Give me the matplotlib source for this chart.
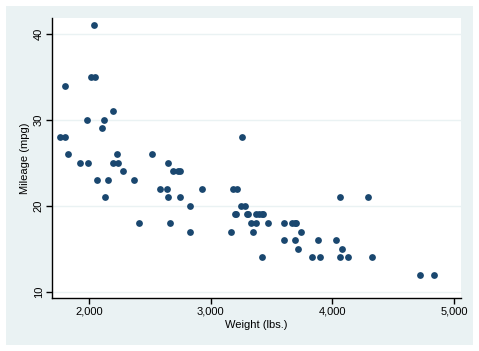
import matplotlib
matplotlib.use("Agg")
import matplotlib.pyplot as plt
from matplotlib.patches import Rectangle
from matplotlib.ticker import FuncFormatter

plt.rcParams["font.family"] = ["Liberation Sans", "DejaVu Sans"]

# auto data: weight (lbs.) and mileage (mpg)
weight = [2930, 3350, 2640, 3250, 4080, 3670, 2230, 3280, 3880, 3400,
          4330, 3900, 4290, 2110, 3690, 3180, 3220, 2750, 3430, 2120,
          3600, 3600, 3740, 1800, 2650, 4840, 4720, 3830, 2580, 4060,
          3720, 3370, 4130, 2830, 4060, 3310, 3300, 3690, 3370, 2730,
          4030, 3260, 1800, 2200, 2520, 3330, 3700, 3470, 3210, 3200,
          3420, 2690, 2830, 2070, 2650, 2370, 2020, 2280, 2750, 2130,
          2240, 1760, 1980, 3420, 1830, 2050, 2410, 2200, 2670, 2160,
          2040, 1930, 1990, 3170]
mpg = [22, 17, 22, 20, 15, 18, 26, 20, 16, 19,
       14, 14, 21, 29, 16, 22, 22, 24, 19, 30,
       18, 16, 17, 28, 21, 12, 12, 14, 22, 14,
       15, 18, 14, 20, 21, 19, 19, 18, 19, 24,
       16, 28, 34, 25, 26, 18, 18, 18, 19, 19,
       19, 24, 17, 23, 25, 23, 35, 24, 21, 21,
       25, 28, 30, 14, 26, 35, 18, 31, 18, 23,
       41, 25, 25, 17]
xticks = [2000, 3000, 4000, 5000]
yticks = [10, 20, 30, 40]

W, H = 479, 351
fig = plt.figure(figsize=(W / 100, H / 100), dpi=100, facecolor="white")
fig.patches.append(Rectangle((6 / W, 6 / H), 467 / W, 339 / H,
                             transform=fig.transFigure, facecolor="#EAF2F3",
                             edgecolor="none", zorder=-5))

ax = fig.add_axes([52 / W, (H - 298) / H, 409 / W, 280 / H])
ax.set_zorder(1)
ax.set_facecolor("white")
ax.scatter(weight, mpg, s=24, color="#1A476F", zorder=3, linewidths=0)

ax.set_xlim(1696, 5058)
ax.set_ylim(9.27, 41.86)
ax.set_xticks(xticks)
ax.set_yticks(yticks)
ax.xaxis.set_major_formatter(FuncFormatter(lambda v, p: f"{int(v):,}"))
ax.grid(axis="y", color="#EAF2F3", linewidth=1)
ax.set_axisbelow(True)

for s in ["top", "right"]:
    ax.spines[s].set_visible(False)
for s in ["left", "bottom"]:
    ax.spines[s].set_color("black")
    ax.spines[s].set_linewidth(1)

ax.tick_params(axis="both", direction="out", length=4, width=1,
               labelsize=8, color="black", pad=2)
plt.setp(ax.get_yticklabels(), rotation=90, va="center")

ax.set_xlabel("Weight (lbs.)", fontsize=8, labelpad=3)
ax.set_ylabel("Mileage (mpg)", fontsize=8, labelpad=3)

plt.savefig("out.png", dpi=100, facecolor="white")
